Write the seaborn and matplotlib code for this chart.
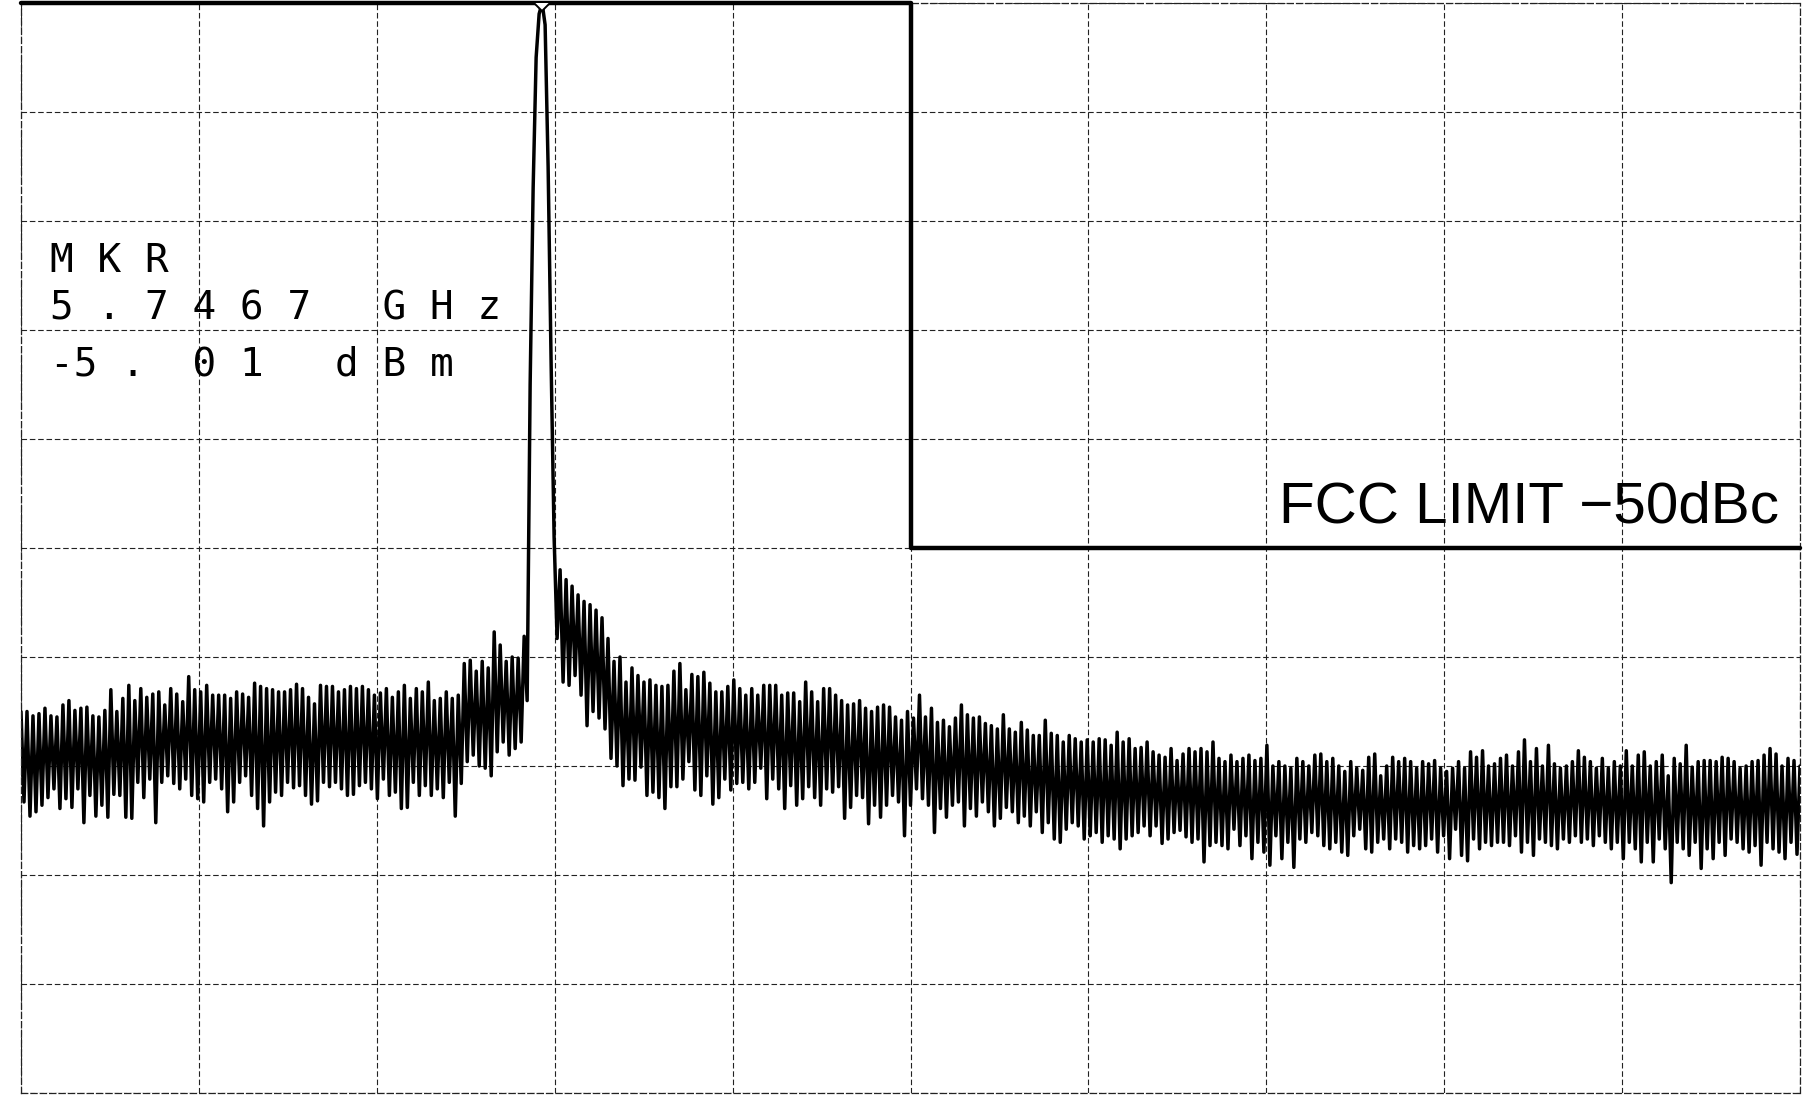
import numpy as np
import seaborn as sns
import matplotlib.pyplot as plt

# Spectrum analyser plot: 10 dB/div, reference level -5 dBm, span 5.60 - 6.10 GHz
f_start = 5.60
f_stop = 6.10
ref_level = -5.0
db_per_div = 10

# noise floor left of the carrier (dBm): peaks and troughs
left_peaks = [-70.0, -70.0, -70.4, -70.2, -69.7, -70.4, -70.5, -69.4, -69.0, -69.9,
              -69.7, -69.6, -70.4, -70.5, -69.9, -68.0, -70.0, -68.8, -67.6, -69.0,
              -67.9, -68.7, -68.4, -68.2, -69.4, -67.9, -68.4, -69.1, -66.8, -68.0,
              -68.2, -67.6, -68.5, -68.5, -68.5, -68.8, -68.2, -68.4, -68.7, -67.4,
              -67.7, -67.9, -68.0, -68.2, -68.2, -68.0, -67.5,
              -67.9, -68.7, -69.3, -67.6, -67.7, -67.7, -68.2, -68.0, -67.7, -67.9,
              -67.7, -68.0, -68.5, -68.3, -67.9, -68.7, -68.2, -67.6, -68.8, -67.9,
              -68.2, -67.3, -69.0, -68.8, -68.2, -68.8, -68.5]
left_troughs = [-78.3, -79.6, -79.2, -78.6, -77.9, -77.1, -78.9, -78.0, -78.8, -77.1,
                -80.2, -77.7, -79.6, -78.6, -79.7, -77.6, -77.7, -79.7, -79.8, -76.5,
                -77.9, -76.2, -80.2, -76.5, -75.9, -76.6, -77.1, -76.2, -77.7, -78.0,
                -78.3, -76.5, -76.2, -77.1, -79.2, -78.3, -76.5, -75.9, -77.7, -78.9,
                -80.5, -78.3, -77.4, -77.7, -76.5, -77.0, -76.8,
                -77.7, -78.5, -78.2, -76.5, -76.9, -76.5, -77.1, -77.7, -77.6, -76.8,
                -76.5, -77.1, -78.0, -76.2, -77.7, -77.4, -78.9, -78.8, -76.5, -77.7,
                -76.8, -77.7, -77.1, -77.9, -76.5, -79.6, -76.6]

# raised shoulder just below the carrier
hump_peaks = [-65.6, -65.3, -66.3, -65.4, -66.0, -62.7, -63.9, -65.4, -65.0, -65.1, -63.1]
hump_troughs = [-74.6, -74.0, -75.0, -75.2, -75.9, -73.7, -72.8, -74.0, -73.4, -72.8, -69.0]

# carrier (marker at -5.01 dBm)
carrier = [-40.0, -22.0, -10.0, -6.0, -5.01, -7.0, -20.0, -38.0, -54.0]

# noise floor right of the carrier
right_troughs = [-63.3, -67.3, -67.6, -66.7, -68.5, -71.3, -70.0, -70.6,
                 -71.6, -74.3, -75.0, -76.8, -76.2, -76.3, -75.1, -77.7, -77.4, -77.9,
                 -78.9, -76.9, -76.9, -76.2, -74.6, -77.2, -77.7, -75.9, -78.5, -77.9,
                 -76.2, -77.2, -76.6, -76.5, -77.1, -76.5, -75.2, -78.0, -76.2, -77.1,
                 -78.9, -76.8, -78.6, -78.0, -76.9, -77.9, -78.6, -77.1, -77.4, -76.9,
                 -79.8, -78.8, -77.7, -77.9, -80.3, -78.6, -79.7, -78.6, -77.7, -78.3,
                 -81.4, -78.6, -77.1, -78.0, -78.6, -81.1, -78.9, -79.7, -78.6, -78.3,
                 -80.5, -78.9, -79.6, -78.3, -79.2, -80.5, -79.8, -78.8, -79.2, -80.2,
                 -79.6, -80.5, -79.2, -81.1, -80.2, -81.7, -82.0, -80.8, -80.2, -80.5,
                 -81.7, -81.4, -81.1, -82.0, -81.4, -81.7, -82.6, -81.7, -81.4, -81.1,
                 -80.5, -81.4, -80.5, -82.1, -81.7, -81.1, -80.9, -81.5, -82.0, -81.7,
                 -83.8, -82.3, -82.0, -82.3, -82.6, -80.8, -82.3, -81.4, -83.5, -82.0,
                 -82.9, -84.1, -81.4, -83.5, -82.0, -84.3, -81.7, -82.0, -81.1, -81.4,
                 -82.3, -82.6, -82.0, -82.9, -83.2, -81.4, -80.8, -82.6, -82.9, -82.0,
                 -81.7, -82.6, -81.7, -82.0, -82.9, -82.3, -82.6, -82.3, -81.7, -82.9,
                 -81.4, -83.5, -80.8, -83.2, -83.7, -81.7, -82.6, -82.0, -82.3, -82.0,
                 -82.0, -82.3, -81.4, -82.9, -82.0, -83.2, -81.7, -82.0, -82.3, -82.6,
                 -81.7, -82.0, -81.4, -82.0, -81.7, -82.3, -81.4, -82.0, -82.6, -82.0,
                 -83.5, -82.0, -82.6, -83.8, -82.0, -83.8, -81.7, -82.6, -85.7, -82.0,
                 -82.6, -83.2, -82.0, -84.4, -82.6, -83.5, -82.0, -83.2, -81.7, -82.0,
                 -82.6, -82.9, -82.3, -84.1, -82.0, -82.6, -82.9, -83.5, -82.0, -83.1]
right_peaks = [-57.0, -57.9, -58.5, -59.3, -59.9, -60.2, -60.7, -61.4,
               -63.3, -65.4, -65.0, -67.3, -66.0, -66.7, -67.3, -67.1, -67.6, -67.7,
               -67.6, -66.3, -65.6, -68.0, -66.6, -66.8, -66.4, -67.4, -68.2, -68.2,
               -67.7, -67.1, -67.9, -68.5, -67.9, -68.5, -67.6, -67.6, -67.6, -68.5,
               -68.3, -68.3, -69.1, -67.3, -68.2, -69.1, -67.9, -67.9, -68.5, -69.0,
               -69.4, -69.3, -69.0, -69.7, -70.0, -69.6, -69.4, -69.6, -70.5, -70.8,
               -70.0, -70.6, -68.5, -70.5, -69.7, -71.0, -70.8, -71.4, -70.6, -69.4,
               -70.3, -70.6, -70.5, -71.1, -71.3, -71.6, -70.3, -71.6, -71.9, -71.0,
               -71.7, -72.2, -72.2, -70.8, -72.0, -72.2, -72.8, -72.2, -72.5, -72.8,
               -72.6, -72.8, -72.5, -72.6, -73.1, -71.9, -72.8, -72.5, -73.4, -73.3,
               -72.8, -73.7, -74.0, -74.2, -73.4, -74.5, -73.9, -73.4, -73.7, -73.4,
               -73.7, -72.8, -74.3, -74.6, -74.0, -74.6, -74.3, -74.0, -74.5, -74.3,
               -73.1, -75.0, -74.6, -75.0, -75.2, -74.3, -74.6, -75.0, -74.0, -73.9,
               -74.6, -74.3, -75.0, -75.5, -74.6, -75.2, -75.4, -74.2, -73.9, -75.9,
               -75.0, -74.2, -74.6, -74.3, -74.6, -75.2, -74.6, -74.8, -74.5, -75.2,
               -75.5, -75.2, -74.6, -75.2, -73.7, -74.2, -73.6, -75.0, -74.8, -74.3,
               -74.0, -75.0, -73.7, -72.6, -74.6, -73.4, -75.0, -73.1, -74.8, -75.2,
               -75.0, -74.6, -73.6, -74.2, -74.6, -75.2, -74.3, -75.2, -74.6, -75.0,
               -73.6, -75.0, -74.0, -73.7, -75.0, -74.6, -74.0, -75.9, -74.3, -74.8,
               -73.1, -75.1, -74.6, -74.5, -74.5, -74.6, -74.2, -74.3, -74.6, -75.2,
               -75.0, -74.6, -74.5, -74.0, -73.4, -73.9, -75.0, -74.3, -74.5, -75.0]

# FCC limit mask: carrier level up to band edge, then -50 dBc
limit_freq = [5.60, 5.85, 5.85, 6.10]
limit_level = [-5.0, -5.0, -55.0, -55.0]

marker_lines = ["M K R", "5 . 7 4 6 7   G H z", "-5 .  0 1   d B m"]
limit_label = "FCC LIMIT \u221250dBc"


def zigzag(first, second):
    out = []
    for a, b in zip(first, second):
        out += [a, b]
    return out


level = (zigzag(left_peaks, left_troughs) + zigzag(hump_peaks, hump_troughs)
         + carrier + zigzag(right_troughs, right_peaks))
freq = np.linspace(f_start, f_stop, len(level))
peak_idx = int(np.argmax(level))

sns.set_style("white")
plt.rcParams["font.family"] = ["DejaVu Sans"]

W, H = 1809, 1096
fig = plt.figure(figsize=(W / 100, H / 100), dpi=100)
ax = fig.add_axes([21 / W, 3 / H, 1779 / W, 1090 / H])

# 10 x 10 graticule
grid_style = dict(color="#222222", lw=0.8, ls=(0, (5, 2.5)))
ax.set_xlim(f_start, f_stop)
ax.set_ylim(ref_level - 10 * db_per_div, ref_level)
ax.set_xticks(np.linspace(f_start, f_stop, 11))
ax.set_yticks(np.linspace(ref_level - 10 * db_per_div, ref_level, 11))
ax.grid(True, **grid_style)
ax.tick_params(length=0, labelleft=False, labelbottom=False)
for sp in ax.spines.values():
    sp.set_color("#222222")
    sp.set_linewidth(0.9)
    sp.set_linestyle((0, (5, 2.5)))

# limit mask
sns.lineplot(x=limit_freq, y=limit_level, sort=False, estimator=None,
             color="black", lw=3.2, ax=ax)
ax.lines[-1].set_clip_on(False)
ax.lines[-1].set_zorder(3)

# measured trace
sns.lineplot(x=freq, y=level, sort=False, estimator=None,
             color="black", lw=2.5, ax=ax)

# marker on the carrier peak
ax.plot(freq[peak_idx], level[peak_idx], marker="D", ms=8, mfc="white",
        mec="black", mew=1.4, zorder=5)

ax.set_xlabel("")
ax.set_ylabel("")

# marker readout
for txt, yb in zip(marker_lines, [272, 320, 376]):
    fig.text(50 / W, 1 - yb / H, txt, fontsize=28.4, family="DejaVu Sans Mono",
             color="black", va="baseline", ha="left")

fig.text(1279 / W, 1 - 522 / H, limit_label, fontsize=42,
         family="Liberation Sans", color="black", va="baseline", ha="left")

fig.savefig("out.png", dpi=100)
